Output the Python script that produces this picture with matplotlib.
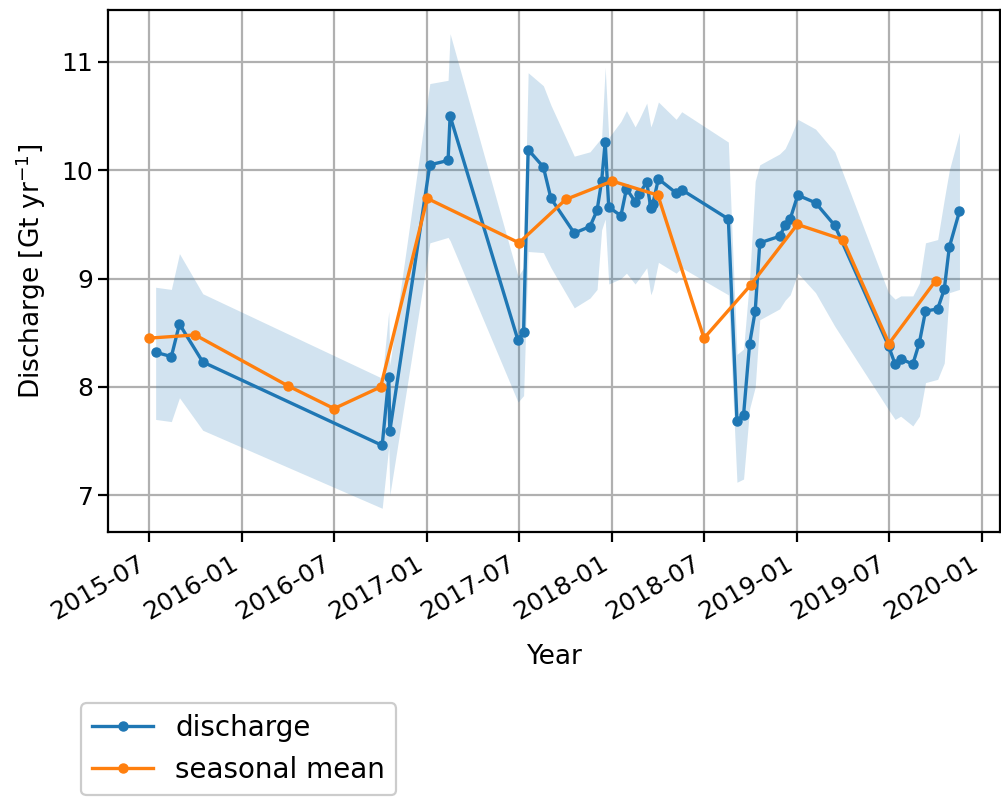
import matplotlib
matplotlib.use("Agg")
import matplotlib.pyplot as plt
import matplotlib.dates as mdates
import pandas as pd

# Individual discharge estimates
discharge_dates = [
    "2015-07-15", "2015-08-15", "2015-08-31", "2015-10-16",
    "2016-10-04", "2016-10-17", "2016-10-19",
    "2017-01-06", "2017-02-11", "2017-02-15",
    "2017-06-29", "2017-07-10", "2017-07-19", "2017-08-18", "2017-09-02",
    "2017-10-18", "2017-11-18", "2017-12-02", "2017-12-11", "2017-12-18",
    "2017-12-25", "2018-01-18", "2018-01-29", "2018-02-15", "2018-02-23",
    "2018-03-10", "2018-03-18", "2018-03-22", "2018-04-02", "2018-05-07",
    "2018-05-18", "2018-08-18", "2018-09-04", "2018-09-17", "2018-09-29",
    "2018-10-10", "2018-10-19", "2018-11-27", "2018-12-08", "2018-12-18",
    "2019-01-02", "2019-02-06", "2019-03-16", "2019-06-30", "2019-07-13",
    "2019-07-24", "2019-08-17", "2019-08-30", "2019-09-11", "2019-10-05",
    "2019-10-18", "2019-10-28", "2019-11-17",
]
discharge = [
    8.32, 8.28, 8.58, 8.23, 7.46, 8.09, 7.59, 10.05, 10.09, 10.50,
    8.43, 8.51, 10.19, 10.03, 9.74, 9.42, 9.48, 9.63, 9.90, 10.26,
    9.66, 9.58, 9.83, 9.71, 9.78, 9.89, 9.65, 9.69, 9.92, 9.79,
    9.82, 9.55, 7.69, 7.74, 8.40, 8.70, 9.33, 9.39, 9.49, 9.55,
    9.77, 9.70, 9.49, 8.38, 8.21, 8.26, 8.21, 8.41, 8.70, 8.72,
    8.90, 9.29, 9.62,
]
discharge_upper = [
    8.92, 8.90, 9.23, 8.86, 8.08, 8.70, 8.20, 10.80, 10.83, 11.26,
    9.02, 9.10, 10.90, 10.78, 10.60, 10.13, 10.17, 10.25, 10.30, 10.95,
    10.30, 10.45, 10.55, 10.40, 10.47, 10.62, 10.40, 10.45, 10.63, 10.47,
    10.54, 10.26, 8.30, 8.35, 9.00, 9.90, 10.05, 10.15, 10.20, 10.30,
    10.47, 10.38, 10.17, 8.87, 8.81, 8.84, 8.84, 8.96, 9.33, 9.36,
    9.73, 10.00, 10.35,
]
discharge_lower = [
    7.70, 7.68, 7.90, 7.60, 6.88, 7.45, 7.00, 9.33, 9.38, 9.35,
    7.86, 7.92, 9.25, 9.24, 9.10, 8.73, 8.82, 8.90, 9.45, 9.55,
    8.95, 9.00, 9.05, 8.95, 9.00, 9.10, 8.85, 8.90, 9.15, 9.05,
    9.10, 8.85, 7.12, 7.15, 7.80, 8.00, 8.62, 8.72, 8.80, 8.85,
    9.05, 8.87, 8.56, 7.79, 7.70, 7.73, 7.64, 7.73, 8.04, 8.07,
    8.22, 8.87, 8.90,
]

# Seasonal (quarterly) means
season_dates = [
    "2015-07-01", "2015-10-01", "2016-04-01", "2016-07-01", "2016-10-01",
    "2017-01-01", "2017-07-01", "2017-10-01", "2018-01-01", "2018-04-01",
    "2018-07-01", "2018-10-01", "2019-01-01", "2019-04-01", "2019-07-01",
    "2019-10-01",
]
season_mean = [
    8.45, 8.48, 8.01, 7.80, 8.00, 9.74, 9.33, 9.73, 9.90, 9.77,
    8.45, 8.94, 9.50, 9.36, 8.40, 8.98,
]

t_dis = pd.to_datetime(discharge_dates)
t_sea = pd.to_datetime(season_dates)

fig = plt.figure(figsize=(10.01, 7.98), dpi=100)
ax = fig.add_axes([108 / 1001, 1 - 532 / 798, (1000 - 108) / 1001, (532 - 10) / 798])

ax.fill_between(t_dis, discharge_lower, discharge_upper, color="#1f77b4", alpha=0.2, linewidth=0)
ax.plot(t_dis, discharge, "-o", color="#1f77b4", lw=2.4, ms=6.5, label="discharge")
ax.plot(t_sea, season_mean, "-o", color="#ff7f0e", lw=2.4, ms=6.5, label="seasonal mean")

ax.grid(True, color="#b0b0b0", lw=1.6)
ax.set_axisbelow(True)

ax.xaxis.set_major_locator(mdates.MonthLocator(bymonth=(1, 7)))
ax.xaxis.set_major_formatter(mdates.DateFormatter("%Y-%m"))
ax.set_yticks([7, 8, 9, 10, 11])

ax.tick_params(labelsize=18, length=7, width=1.6)
ax.tick_params(axis="x", pad=7)
for lbl in ax.get_xticklabels():
    lbl.set_rotation(30)
    lbl.set_ha("right")
for s in ax.spines.values():
    s.set_linewidth(1.6)

ax.set_xlabel("Year", fontsize=19, labelpad=14)
ax.set_ylabel("Discharge [Gt yr$^{-1}$]", fontsize=19, labelpad=10)

leg = fig.legend(loc="upper left", bbox_to_anchor=(81 / 1001, 1 - 703 / 798),
                 fontsize=20, framealpha=1, edgecolor="#cccccc", borderaxespad=0,
                 handlelength=2.2)
leg.get_frame().set_linewidth(1.6)

fig.savefig("out.png", dpi=100)
